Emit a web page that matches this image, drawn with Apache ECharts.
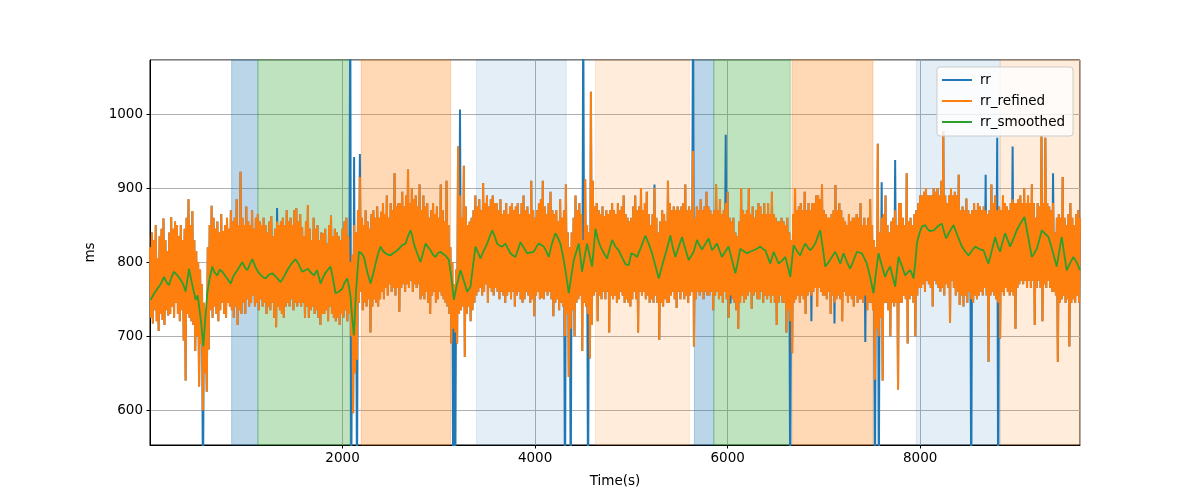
<!DOCTYPE html>
<html>
<head>
<meta charset="utf-8">
<script src="https://cdn.jsdelivr.net/npm/echarts@6/dist/echarts.min.js"></script>
<style>html,body{margin:0;padding:0;background:#fff}#chart{width:1200px;height:500px}</style>
</head>
<body>
<div id="chart"></div>
<script>
// sampling step (s) of the refined / raw RR traces
const T_STEP = 10;

// rr_refined (ms), one value every T_STEP seconds starting at t=0 (20 values = 200 s per row)
const rrRefined = [
820,725,840,717,830,735,850,720,805,707,835,730,845,722,859,715,830,735,815,728,
840,730,861,740,845,725,855,745,850,730,835,720,850,735,830,694,845,640,860,730,
885,725,850,720,869,715,830,680,815,700,800,632,790,690,770,600,745,650,730,625,
820,682,850,735,876,725,860,740,845,730,855,720,840,735,865,745,842,730,850,725,
860,745,845,740,870,735,855,725,860,740,885,715,850,735,922,730,860,745,850,730,
875,750,855,740,850,745,870,755,845,740,860,745,865,735,855,750,850,740,860,745,
850,730,840,740,855,735,862,745,835,725,845,712,855,740,850,735,855,730,860,725,
850,740,870,745,855,740,860,750,850,735,870,745,873,740,855,745,865,740,847,745,
835,725,855,740,877,725,845,735,830,740,860,730,845,735,850,725,830,715,840,730,
839,730,845,735,825,720,850,740,863,730,835,725,845,720,840,725,835,715,830,730,
845,725,855,735,860,720,835,730,800,700,810,596,850,650,840,668,870,745,915,760,
860,735,850,745,870,740,855,750,845,705,865,740,870,750,860,745,875,740,860,750,
868,760,880,750,865,765,890,755,860,770,880,760,870,765,920,755,875,765,880,733,
880,765,895,770,875,760,890,770,925,765,880,775,900,760,885,770,890,765,875,770,
905,750,870,755,890,750,875,760,880,745,860,730,870,755,880,760,865,745,875,750,
860,760,905,755,870,750,855,745,910,740,850,730,820,690,800,710,770,705,790,690,
956,730,890,735,860,740,930,672,875,730,850,740,855,720,860,735,870,745,890,755,
875,760,885,765,870,755,907,760,880,770,890,745,875,765,885,760,890,755,880,765,
880,760,870,750,885,760,865,755,870,745,880,755,865,760,875,750,880,760,870,740,
875,755,880,760,865,750,880,745,890,750,870,760,875,755,865,745,910,750,870,727,
860,755,870,760,880,750,885,752,910,750,875,760,865,755,880,760,895,750,870,727,
865,745,870,750,855,735,885,745,860,740,870,700,905,730,840,645,820,710,840,735,
860,700,890,745,870,750,880,755,865,680,830,745,912,740,850,730,840,670,1030,715,
910,755,875,760,880,720,870,755,865,750,875,760,862,750,870,760,865,705,870,755,
880,750,870,755,865,745,880,750,870,760,875,755,890,745,865,750,860,745,855,740,
860,750,875,760,890,750,870,705,875,760,900,755,870,760,880,750,895,755,865,745,
850,750,865,745,900,755,860,745,840,695,855,745,870,740,865,750,855,745,910,745,
880,755,870,760,875,750,870,738,875,760,870,750,875,760,880,750,905,755,870,745,
875,755,870,760,950,686,860,750,875,760,870,755,885,760,870,750,875,760,895,755,
875,755,870,760,865,735,870,755,905,760,870,750,885,755,865,745,870,760,880,750,
895,725,860,755,855,750,860,745,840,735,835,710,855,745,900,755,870,745,865,750,
870,755,900,760,865,737,875,755,860,760,870,750,880,750,875,760,865,745,880,755,
865,750,880,755,865,745,895,755,865,745,860,715,855,745,855,755,860,745,855,745,
850,705,860,735,840,720,830,677,865,745,900,750,870,755,875,745,880,755,870,750,
895,730,870,755,880,760,870,755,880,760,880,765,890,740,890,765,885,760,905,755,
870,755,865,750,860,760,860,730,865,755,870,745,904,750,870,755,880,750,870,720,
860,760,855,755,850,745,865,755,855,750,860,740,860,755,865,745,860,750,880,750,
850,745,860,755,850,735,860,745,885,745,850,735,830,641,820,710,960,700,840,725,
860,640,865,745,890,745,850,735,840,700,855,745,860,740,870,745,850,628,880,745,
880,745,860,755,850,750,920,690,855,750,860,755,850,745,865,700,870,755,880,765,
890,765,890,770,895,760,900,775,890,770,890,765,890,740,900,775,895,770,900,765,
890,760,910,765,977,755,890,770,880,765,890,718,900,775,890,765,895,755,890,760,
918,742,870,755,875,740,870,755,886,745,870,760,865,750,870,745,880,755,870,750,
880,755,875,760,870,755,875,765,870,755,865,665,870,755,905,760,880,755,890,750,
870,745,875,697,870,760,890,755,880,765,875,760,870,755,880,760,885,755,880,710,
880,765,885,770,890,775,880,770,900,775,880,765,890,775,880,765,905,775,880,715,
860,765,880,775,875,765,970,720,880,770,968,765,880,775,875,765,870,760,880,760,
840,755,860,665,865,745,860,750,915,755,860,745,850,750,865,686,880,745,860,750,
850,745,865,755,870,745,860
];

// rr (raw): identical to rr_refined except at these artefact beats [time s, ms]
const rrArtefacts = [
[550,470],[1320,873],[2080,1180],[2090,450],[2120,942],[2150,480],[2180,946],
[3150,455],[3170,465],[3220,1006],[4310,470],[4370,480],[4500,1150],[4550,470],
[5240,905],[5640,1150],[5980,972],[6030,744],[6650,470],[6870,720],[7110,717],
[7430,692],[7530,470],[7570,480],[7600,908],[7740,938],[8530,470],[8680,918],
[8800,968],[8810,470],[8960,956],[9380,920]
];

// rr_smoothed [time s, ms]
const rrSmoothed = [
[7,749],[40,757],[76,764],[110,770],[146,780],[175,772],[197,769],[225,780],[250,787],[285,782],[319,776],[345,770],[370,760],[390,778],[405,791],[430,775],[455,760],[474,749],[495,755],[509,753],[530,720],[554,686],[575,725],[595,758],[620,778],[647,794],[670,786],[699,782],[725,790],[751,787],[790,780],[838,771],[870,782],[907,789],[935,795],[959,800],[985,793],[1011,789],[1040,798],[1063,804],[1100,792],[1132,785],[1170,780],[1201,778],[1235,783],[1270,785],[1310,780],[1357,773],[1390,780],[1426,789],[1470,798],[1512,804],[1545,797],[1580,787],[1616,789],[1640,791],[1670,786],[1703,782],[1735,789],[1772,771],[1800,780],[1824,786],[1850,790],[1876,794],[1900,778],[1927,758],[1960,760],[1997,764],[2020,772],[2048,778],[2065,768],[2083,753],[2100,725],[2118,701],[2140,760],[2170,814],[2195,812],[2222,807],[2260,785],[2291,771],[2320,785],[2343,798],[2370,812],[2395,821],[2420,815],[2446,812],[2470,810],[2498,809],[2525,812],[2550,814],[2585,818],[2619,823],[2654,825],[2680,835],[2706,843],[2725,835],[2740,825],[2775,812],[2810,800],[2835,812],[2862,825],[2890,820],[2914,816],[2940,810],[2965,807],[2990,812],[3017,814],[3045,811],[3069,809],[3104,803],[3130,780],[3156,749],[3180,765],[3207,780],[3225,789],[3260,775],[3294,760],[3329,767],[3355,795],[3381,821],[3410,812],[3433,805],[3465,815],[3502,825],[3530,835],[3554,843],[3580,835],[3606,825],[3635,822],[3658,821],[3692,825],[3720,818],[3744,812],[3770,809],[3796,807],[3820,816],[3848,827],[3880,820],[3917,812],[3950,813],[3986,814],[4012,820],[4038,825],[4065,823],[4090,821],[4115,815],[4142,807],[4175,825],[4211,839],[4240,832],[4263,825],[4290,808],[4315,789],[4350,758],[4375,780],[4402,803],[4430,815],[4454,825],[4470,808],[4488,787],[4515,808],[4540,825],[4565,810],[4592,794],[4610,820],[4627,845],[4650,832],[4679,821],[4715,812],[4748,805],[4775,818],[4800,830],[4834,821],[4868,816],[4905,806],[4940,797],[4972,796],[5000,812],[5030,810],[5059,807],[5100,820],[5145,836],[5180,825],[5215,812],[5250,795],[5284,778],[5330,800],[5370,818],[5405,836],[5430,820],[5457,807],[5490,820],[5526,834],[5560,818],[5595,803],[5620,808],[5647,814],[5682,830],[5710,822],[5734,817],[5770,825],[5803,832],[5820,824],[5837,816],[5862,820],[5889,825],[5915,816],[5941,807],[5975,814],[6010,821],[6045,803],[6080,785],[6105,800],[6131,818],[6165,815],[6201,812],[6235,814],[6270,816],[6305,818],[6339,821],[6365,818],[6391,816],[6420,806],[6443,798],[6478,814],[6510,804],[6530,798],[6565,802],[6599,807],[6625,794],[6651,780],[6685,823],[6720,815],[6754,809],[6780,818],[6806,825],[6832,820],[6858,816],[6885,820],[6910,825],[6935,834],[6962,843],[6990,818],[7014,794],[7050,800],[7083,807],[7118,814],[7145,806],[7170,798],[7204,812],[7240,800],[7273,791],[7310,803],[7343,814],[7370,813],[7394,812],[7420,805],[7446,798],[7480,780],[7515,758],[7540,785],[7567,812],[7600,796],[7636,780],[7660,788],[7689,794],[7715,780],[7740,767],[7760,790],[7775,807],[7810,795],[7844,782],[7870,786],[7896,789],[7915,784],[7931,778],[7950,800],[7965,825],[7990,838],[8017,848],[8052,850],[8075,845],[8100,842],[8140,843],[8180,848],[8225,852],[8250,840],[8270,832],[8300,840],[8346,850],[8390,835],[8433,821],[8470,814],[8502,809],[8535,815],[8571,821],[8610,818],[8658,816],[8685,806],[8709,798],[8745,816],[8779,834],[8805,822],[8830,814],[8855,827],[8882,839],[8908,830],[8934,821],[8970,832],[9003,843],[9040,852],[9083,861],[9120,835],[9159,807],[9185,812],[9211,818],[9237,830],[9263,843],[9300,838],[9332,834],[9375,815],[9418,794],[9445,815],[9470,834],[9495,812],[9522,789],[9555,798],[9591,807],[9625,800],[9660,789]
];

// shaded activity spans
const spanStart = [848, 1121, 2194, 3391, 4627, 5655, 5856, 6669, 7960, 8831];
const spanEnd   = [1121, 2076, 3122, 4323, 5603, 5856, 6651, 7510, 8831, 9700];
const spanColor = [
  'rgba(31,119,180,0.3)', 'rgba(44,160,44,0.3)', 'rgba(255,127,14,0.3)',
  'rgba(31,119,180,0.12)', 'rgba(255,127,14,0.15)', 'rgba(31,119,180,0.3)',
  'rgba(44,160,44,0.3)', 'rgba(255,127,14,0.3)', 'rgba(31,119,180,0.12)',
  'rgba(255,127,14,0.15)'
];

const X_MIN = 0, X_MAX = 9660, Y_MIN = 553, Y_MAX = 1073;

const refinedData = rrRefined.map((v, i) => [i * T_STEP, v]);
const artefactMap = new Map(rrArtefacts.map(p => [p[0], p[1]]));
const rawData = rrRefined.map((v, i) => {
  const t = i * T_STEP;
  return [t, artefactMap.has(t) ? artefactMap.get(t) : v];
});
const areas = spanStart.map((s, i) => [
  { xAxis: s, itemStyle: { color: spanColor[i], borderColor: spanColor[i], borderWidth: 1 } },
  { xAxis: spanEnd[i] }
]);

const FONT = 'DejaVu Sans';
const FS = 13.5;
const plain = v => String(v);
const chart = echarts.init(document.getElementById('chart'), null, { renderer: 'canvas' });
chart.setOption({
  animation: false,
  backgroundColor: '#fff',
  textStyle: { fontFamily: FONT },
  grid: { left: 150, right: 120, top: 60, bottom: 55, show: true, borderColor: '#000', borderWidth: 1, backgroundColor: 'transparent' },
  legend: {
    orient: 'vertical', right: 127, top: 67,
    data: ['rr', 'rr_refined', 'rr_smoothed'],
    icon: 'rect', itemWidth: 30, itemHeight: 2, itemGap: 7,
    padding: [6, 8, 7, 5],
    backgroundColor: 'rgba(255,255,255,0.8)', borderColor: '#cccccc', borderWidth: 1, borderRadius: 3,
    textStyle: { fontFamily: FONT, fontSize: FS, color: '#000', lineHeight: 14, padding: [0, 0, 0, 3] }
  },
  xAxis: {
    type: 'value', min: X_MIN, max: X_MAX, interval: 2000,
    name: 'Time(s)', nameLocation: 'middle', nameGap: 29,
    nameTextStyle: { fontFamily: FONT, fontSize: FS, color: '#000' },
    axisLine: { show: true, onZero: false, lineStyle: { color: '#000', width: 1 } },
    axisTick: { show: true, length: 3.5, lineStyle: { color: '#000' } },
    axisLabel: { fontFamily: FONT, fontSize: FS, color: '#000', margin: 6, showMinLabel: false, showMaxLabel: false, formatter: plain },
    splitLine: { show: true, lineStyle: { color: '#b0b0b0', width: 1 } }
  },
  yAxis: {
    type: 'value', min: Y_MIN, max: Y_MAX, splitNumber: 5,
    name: 'ms', nameLocation: 'middle', nameGap: 40,
    nameTextStyle: { fontFamily: FONT, fontSize: FS, color: '#000' },
    axisLine: { show: true, onZero: false, lineStyle: { color: '#000', width: 1 } },
    axisTick: { show: true, length: 3.5, lineStyle: { color: '#000' } },
    axisLabel: { fontFamily: FONT, fontSize: FS, color: '#000', margin: 7, showMinLabel: false, showMaxLabel: false, formatter: plain },
    splitLine: { show: true, lineStyle: { color: '#b0b0b0', width: 1 } }
  },
  series: [
    {
      name: 'rr', type: 'line', data: rawData, showSymbol: false, symbol: 'none',
      lineStyle: { color: '#1f77b4', width: 2 }, itemStyle: { color: '#1f77b4' },
      markArea: { silent: true, data: areas }
    },
    {
      name: 'rr_refined', type: 'line', data: refinedData, showSymbol: false, symbol: 'none',
      lineStyle: { color: '#ff7f0e', width: 2 }, itemStyle: { color: '#ff7f0e' }
    },
    {
      name: 'rr_smoothed', type: 'line', data: rrSmoothed, showSymbol: false, symbol: 'none',
      lineStyle: { color: '#2ca02c', width: 1.8 }, itemStyle: { color: '#2ca02c' }
    }
  ]
});
</script>
</body>
</html>
